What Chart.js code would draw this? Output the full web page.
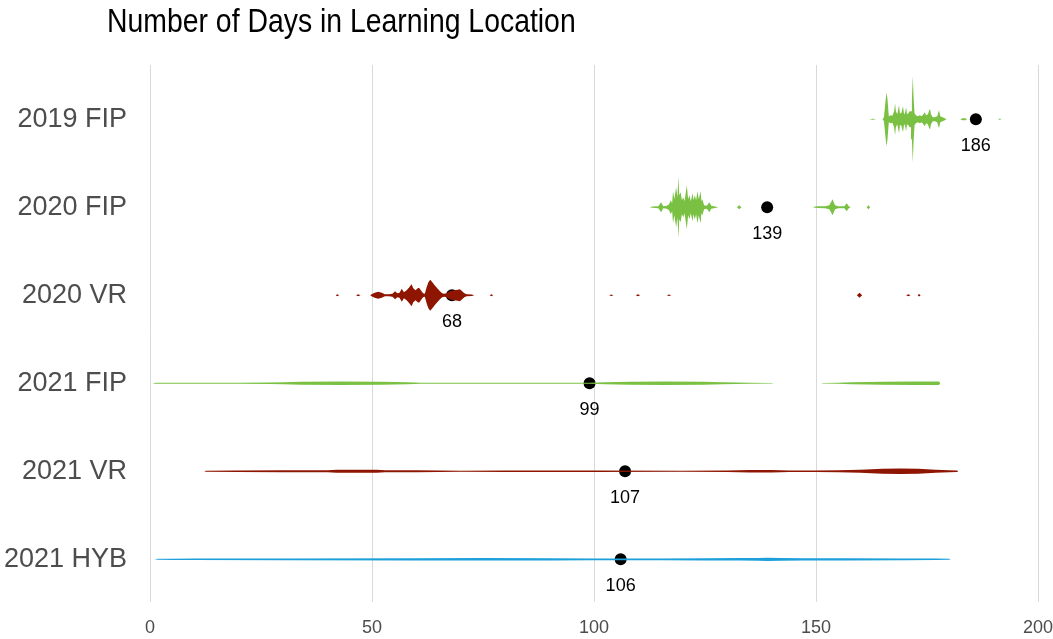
<!DOCTYPE html>
<html>
<head>
<meta charset="utf-8">
<script src="https://cdn.jsdelivr.net/npm/chart.js@4/dist/chart.umd.min.js"></script>
<style>
  html, body { margin: 0; padding: 0; background: #ffffff; }
  #wrap { width: 1053px; height: 639px; }
</style>
</head>
<body>
<div id="wrap"><canvas id="c" width="1053" height="639"></canvas></div>
<script>
// Groups, top to bottom
const groups = ['2019 FIP', '2020 FIP', '2020 VR', '2021 FIP', '2021 VR', '2021 HYB'];
const groupColors = ['#7ac143', '#7ac143', '#8e1500', '#7ac143', '#8e1500', '#1d9fd9'];

// Centre marker per group (days)
const centres = [186, 139, 68, 99, 107, 106];

// Density profiles: [days, density] pairs
const fip2019 = [[162.0,0],[162.8,0.5],[163.5,0],[165.0,0],[165.3,2],[165.7,20],[165.9,27],[166.1,20],[166.4,3],[166.8,4],[167.2,3.5],
  [167.6,8],[167.8,16],[168.0,8],[168.3,5],[168.7,14],[168.9,6],[169.2,6],[169.6,13],[169.8,6],[170.0,5],[170.3,12],[170.5,5],
  [170.8,6],[171.1,8],[171.4,8],[171.6,20],[171.8,43],[172.0,20],[172.2,6],[172.5,4],[172.9,3],[173.4,4],[173.8,3],[174.2,5],
  [174.5,7],[174.8,4],[175.2,5],[175.5,9],[175.7,10],[175.9,5],[176.3,2],[176.8,2],[177.3,3],[177.7,9],[178.0,3],[178.5,2],
  [179.0,1],[179.4,0],[182.5,0],[183.0,1],[183.6,1],[184.0,0],[191.0,0],[191.4,0.6],[191.8,0]];

const fip2020 = [[112.5,0],[113.2,0.6],[114.5,1],[115.1,5],[115.6,1],[116.4,1.5],[116.9,3],[117.3,7],[117.6,4],[117.8,16],[118.1,8],
  [118.5,20],[118.8,10],[119.0,31],[119.2,12],[119.5,15],[119.8,7],[120.1,10],[120.4,6],[120.9,22],[121.2,8],[121.5,12],[121.8,6],
  [122.2,14],[122.4,7],[122.7,12],[123.0,7],[123.3,16],[123.6,8],[124.0,16],[124.2,6],[124.4,8],[124.8,2],[125.4,1.5],[126.0,5],
  [126.4,1.5],[127.0,1],[127.5,0.5],[128.0,0],[132.2,0],[132.7,2],[133.2,0],[149.3,0],[149.8,0.6],[150.5,0.8],[152.0,1],[153.0,2],
  [153.5,6],[153.7,8],[153.9,6],[154.3,2],[155.0,1],[156.4,1],[156.9,4],[157.4,1],[157.8,0],[161.4,0],[161.8,2],[162.2,0]];

const vr2020 = [[41.8,0],[42.2,1],[42.6,0],[46.4,0],[46.9,1],[47.4,0],[49.6,0],[49.9,1],[50.6,2.5],[51.4,3.5],[52.2,2.5],[52.9,1],
  [53.8,1],[54.6,1.5],[55.2,4],[55.7,2],[56.2,2.5],[56.7,6.5],[57.2,3],[57.8,5],[58.4,8],[58.9,11],[59.3,7],[59.8,5],[60.3,7],
  [60.6,7.5],[61.0,5],[61.5,2],[61.9,1.5],[62.3,8],[62.7,13],[63.1,15.5],[63.6,13],[64.2,9.5],[64.8,6.5],[65.3,4],[65.8,2],
  [66.3,1.5],[66.8,2],[67.5,4],[68.5,5],[69.3,5.5],[69.8,6],[70.3,4],[70.8,2],[71.3,1],[72.5,0.8],[73.0,0],[76.5,0],[76.9,1],
  [77.3,0],[103.4,0],[103.9,0.8],[104.4,0],[109.4,0],[109.9,1],[110.4,0],[116.4,0],[116.9,0.8],[117.4,0],[159.2,0],[159.8,2.5],
  [160.4,0],[170.3,0],[170.8,1],[171.3,0],[172.9,0],[173.2,1.2],[173.6,0]];

const fip2021 = [[0.5,0],[1.35,0.4],[10,0.4],[15.8,0.4],[20,0.6],[27,0.8],[30,1.1],[34,1.5],[43,1.7],[52,1.5],[58,1.0],[61,0.6],
  [80,0.5],[99,0.5],[102.5,0.9],[108,1.4],[116,1.7],[124.5,1.4],[129,0.9],[135,0.5],[140,0.3],[140.5,0],[151.2,0],[151.6,0.3],
  [155,0.6],[158,1.1],[165,1.6],[172,1.8],[177.7,1.7],[178.0,0]];

const vr2021 = [[12.2,0],[12.6,0.5],[19.5,0.8],[30,0.9],[40,1.1],[42,1.4],[46,1.6],[51,1.4],[53,0.9],[60,0.9],[65,0.8],[70,0.6],
  [80,0.8],[100,0.7],[120,0.6],[130,0.8],[135,1.2],[140,1.2],[144,0.8],[150,0.8],[155,1.1],[160,1.6],[165,2.4],[169,2.8],
  [173,2.4],[177,1.6],[180,1.1],[181.8,0.8],[182.0,0]];

const hyb2021 = [[1.0,0],[1.8,0.5],[5,0.6],[10,0.8],[30,0.9],[60,1.1],[75,1.2],[90,1.1],[100,0.9],[115,0.9],[125,1.1],[133,1.2],
  [137,1.4],[139,1.6],[142,1.4],[147,1.1],[157,1.1],[170,0.9],[177,0.7],[180,0.5],[180.3,0]];

const profiles = [fip2019, fip2020, vr2020, fip2021, vr2021, hyb2021];

// X axis ticks
const xTicks = [0, 50, 100, 150, 200];

const SANS = "'Liberation Sans', Arial, sans-serif";
const WIDTH_SCALE = 1 / 88; // density units -> row units

// Each violin: an upper edge filled down to its mirrored lower edge
const datasets = [];
profiles.forEach((prof, row) => {
  datasets.push({
    data: prof.map(([x, d]) => ({ x, y: row - d * WIDTH_SCALE })),
    backgroundColor: groupColors[row],
    borderWidth: 0,
    pointRadius: 0,
    fill: '+1',
    tension: 0
  });
  datasets.push({
    data: prof.map(([x, d]) => ({ x, y: row + d * WIDTH_SCALE })),
    backgroundColor: groupColors[row],
    borderWidth: 0,
    pointRadius: 0,
    fill: false,
    tension: 0
  });
});
datasets.push({
  data: centres.map((v, row) => ({ x: v, y: row })),
  showLine: false,
  pointRadius: 6,
  pointHoverRadius: 6,
  pointBackgroundColor: '#000000',
  pointBorderWidth: 0,
  fill: false
});

// Title (narrow lettering) and centre-value labels
const annotate = {
  id: 'annotate',
  afterDraw(chart) {
    const ctx = chart.ctx;
    const xs = chart.scales.x, ys = chart.scales.y;
    ctx.save();
    ctx.fillStyle = '#000000';
    ctx.textBaseline = 'middle';
    ctx.textAlign = 'left';
    ctx.save();
    ctx.translate(107, 23);
    ctx.scale(0.835, 1);
    ctx.font = '34px ' + SANS;
    ctx.fillText('Number of Days in Learning Location', 0, 0);
    ctx.restore();
    ctx.textAlign = 'center';
    ctx.font = '18px ' + SANS;
    centres.forEach((v, row) => {
      ctx.fillText(String(v), xs.getPixelForValue(v), ys.getPixelForValue(row) + 27);
    });
    ctx.restore();
  }
};

new Chart(document.getElementById('c'), {
  type: 'line',
  data: { datasets },
  options: {
    responsive: false,
    animation: false,
    events: [],
    layout: { padding: { top: 65, right: 15, bottom: 0, left: 0 } },
    plugins: { legend: { display: false }, tooltip: { enabled: false }, title: { display: false } },
    scales: {
      x: {
        type: 'linear',
        min: 0,
        max: 200,
        afterBuildTicks: s => { s.ticks = xTicks.map(v => ({ value: v })); },
        afterFit: s => { s.height = 37; s.paddingLeft = 0; s.paddingRight = 0; },
        grid: { color: '#d9d9d9', lineWidth: 1, drawTicks: false },
        border: { display: false },
        ticks: { color: '#4d4d4d', padding: 15, font: { family: SANS, size: 18 } }
      },
      y: {
        type: 'linear',
        reverse: true,
        min: -0.615,
        max: 5.485,
        afterBuildTicks: s => { s.ticks = groups.map((g, i) => ({ value: i })); },
        afterFit: s => { s.width = 150; s.paddingTop = 0; s.paddingBottom = 0; },
        grid: { display: false, drawTicks: false },
        border: { display: false },
        ticks: {
          color: '#4d4d4d',
          padding: 23,
          font: { family: SANS, size: 27 },
          callback: v => groups[v] ?? ''
        }
      }
    }
  },
  plugins: [annotate]
});
</script>
</body>
</html>
